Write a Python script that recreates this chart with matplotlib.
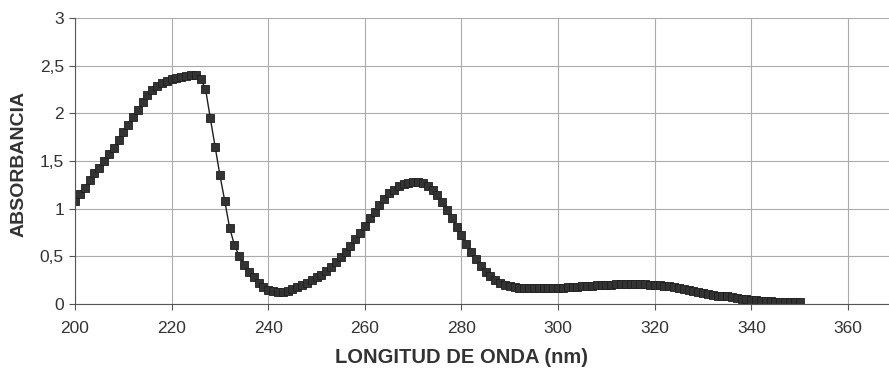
import numpy as np
import matplotlib.pyplot as plt
from matplotlib.ticker import FuncFormatter

plt.rcParams['font.family'] = ['Liberation Sans', 'DejaVu Sans']

# absorbancia medida cada 1 nm, 200-350 nm
wl = np.arange(200, 351)
absorb = [
    1.08, 1.15, 1.22, 1.30, 1.37, 1.43, 1.50, 1.57, 1.64, 1.72,   # 200-209
    1.80, 1.88, 1.96, 2.04, 2.12, 2.19, 2.25, 2.29, 2.32, 2.34,   # 210-219
    2.36, 2.37, 2.38, 2.39, 2.40, 2.40, 2.36, 2.26, 1.95, 1.65,   # 220-229
    1.35, 1.08, 0.80, 0.62, 0.50, 0.41, 0.34, 0.28, 0.22, 0.18,   # 230-239
    0.15, 0.14, 0.13, 0.13, 0.14, 0.16, 0.18, 0.20, 0.22, 0.25,   # 240-249
    0.28, 0.31, 0.35, 0.39, 0.44, 0.49, 0.55, 0.61, 0.68, 0.75,   # 250-259
    0.82, 0.90, 0.97, 1.04, 1.10, 1.16, 1.20, 1.24, 1.26, 1.27,   # 260-269
    1.28, 1.28, 1.27, 1.24, 1.20, 1.14, 1.07, 0.99, 0.90, 0.81,   # 270-279
    0.72, 0.63, 0.55, 0.47, 0.40, 0.34, 0.29, 0.25, 0.22, 0.20,   # 280-289
    0.19, 0.18, 0.17, 0.17, 0.17, 0.17, 0.17, 0.17, 0.17, 0.17,   # 290-299
    0.17, 0.17, 0.18, 0.18, 0.18, 0.19, 0.19, 0.19, 0.20, 0.20,   # 300-309
    0.20, 0.20, 0.21, 0.21, 0.21, 0.21, 0.21, 0.21, 0.21, 0.20,   # 310-319
    0.20, 0.20, 0.19, 0.19, 0.18, 0.17, 0.16, 0.15, 0.14, 0.13,   # 320-329
    0.12, 0.11, 0.10, 0.09, 0.08, 0.08, 0.07, 0.06, 0.05, 0.05,   # 330-339
    0.04, 0.04, 0.03, 0.03, 0.03, 0.02, 0.02, 0.02, 0.02, 0.02,   # 340-349
    0.02,                                                         # 350
]

xticks = [200, 220, 240, 260, 280, 300, 320, 340, 360]
yticks = [0, 0.5, 1, 1.5, 2, 2.5, 3]

fig = plt.figure(figsize=(8.89, 3.75), dpi=100)
ax = fig.add_axes([0.0844, 0.189, 0.9156, 0.763])

ax.plot(wl, absorb, color='#1e1e1e', lw=1.0, marker='s', ms=6,
        mfc='#333333', mec='#1e1e1e', mew=0.6)

ax.set_xlim(200, 368.5)
ax.set_ylim(0, 3)
ax.set_xticks(xticks)
ax.set_yticks(yticks)
ax.yaxis.set_major_formatter(FuncFormatter(lambda v, p: ('%g' % v).replace('.', ',')))
ax.grid(True, color='#ababab', lw=0.8)
ax.set_axisbelow(True)

for s in ['top', 'right']:
    ax.spines[s].set_visible(False)
ax.spines['left'].set_color('#555555')
ax.spines['bottom'].set_color('#555555')
ax.tick_params(axis='both', labelsize=12.5, colors='#555555', labelcolor='#333333',
               length=4, direction='out')
ax.tick_params(axis='x', pad=8)
ax.tick_params(axis='y', pad=4)

ax.set_xlabel('LONGITUD DE ONDA (nm)', fontsize=14.5, fontweight='bold', color='#333333')
ax.xaxis.set_label_coords((280 - 200) / (368.5 - 200), -0.155)
ax.set_ylabel('ABSORBANCIA', fontsize=14, fontweight='bold', color='#333333')
ax.yaxis.set_label_coords(-0.058, 0.49)

fig.savefig('out.png', dpi=100)
